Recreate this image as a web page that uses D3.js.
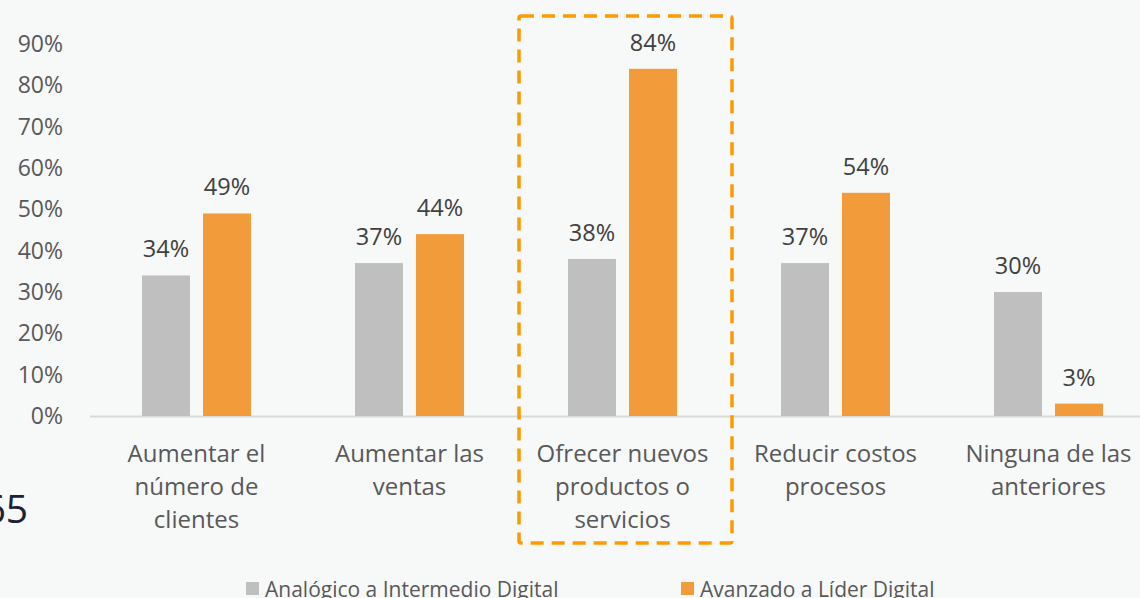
<!DOCTYPE html>
<html>
<head>
<meta charset="utf-8">
<script src="https://cdn.jsdelivr.net/npm/d3@7"></script>
<style>
  html, body { margin: 0; padding: 0; background: #f7f8f8; }
  svg { display: block; font-family: "Open Sans", sans-serif; }
</style>
</head>
<body>
<div id="chart"></div>
<script>
// datos
var categorias = [
  ["Aumentar el", "número de", "clientes"],
  ["Aumentar las", "ventas"],
  ["Ofrecer nuevos", "productos o", "servicios"],
  ["Reducir costos", "procesos"],
  ["Ninguna de las", "anteriores"]
];
var series = ["Analógico a Intermedio Digital", "Avanzado a Líder Digital"];
var analogico = [0.34, 0.37, 0.38, 0.37, 0.30];
var avanzado = [0.49, 0.44, 0.84, 0.54, 0.03];
var etiquetasY = [0, 0.1, 0.2, 0.3, 0.4, 0.5, 0.6, 0.7, 0.8, 0.9];
var colores = ["#bfbfbf", "#f29b3a"];

var width = 1140, height = 598;
var claves = categorias.map(function(c){ return c.join(" "); });

var svg = d3.select("#chart").append("svg")
  .attr("width", width)
  .attr("height", height);

var x0 = d3.scaleBand().domain(claves).range([90, 1155]);
var x1 = d3.scaleBand().domain(series).range([52, 161]).paddingInner(0.213);
var y = d3.scaleLinear().domain([0, 0.9]).range([416, 44]);

// eje y (solo texto)
var ejeY = d3.axisLeft(y).tickValues(etiquetasY).tickFormat(d3.format(".0%")).tickSize(0).tickPadding(0);
var gy = svg.append("g").attr("transform", "translate(63,0)").call(ejeY);
gy.select(".domain").remove();
gy.selectAll("text")
  .style("font-size", "23px")
  .style("font-family", "'Open Sans', sans-serif")
  .attr("fill", "#595959");

// linea base
svg.append("line")
  .attr("x1", 90).attr("x2", width)
  .attr("y1", y(0) + 0.5).attr("y2", y(0) + 0.5)
  .attr("stroke", "#d9d9d9").attr("stroke-width", 2);

var filas = claves.map(function(k, i){
  return { cat: k, valores: [
    { serie: series[0], v: analogico[i] },
    { serie: series[1], v: avanzado[i] }
  ]};
});

var grupos = svg.selectAll(".grupo").data(filas).enter().append("g")
  .attr("class", "grupo")
  .attr("transform", function(d){ return "translate(" + x0(d.cat) + ",0)"; });

grupos.selectAll("rect").data(function(d){ return d.valores; }).enter().append("rect")
  .attr("x", function(d){ return x1(d.serie); })
  .attr("y", function(d){ return y(d.v); })
  .attr("width", x1.bandwidth())
  .attr("height", function(d){ return y(0) - y(d.v); })
  .attr("fill", function(d, i){ return colores[i]; });

grupos.selectAll(".valor").data(function(d){ return d.valores; }).enter().append("text")
  .attr("class", "valor")
  .attr("x", function(d){ return x1(d.serie) + x1.bandwidth() / 2; })
  .attr("y", function(d){ return y(d.v) - 18; })
  .attr("text-anchor", "middle")
  .style("font-size", "23.5px")
  .attr("fill", "#404040")
  .text(function(d){ return Math.round(d.v * 100) + "%"; });

// etiquetas de categoria
categorias.forEach(function(lineas, i){
  var t = svg.append("text")
    .attr("text-anchor", "middle")
    .style("font-size", "24px")
    .attr("fill", "#595959");
  lineas.forEach(function(l, j){
    t.append("tspan")
      .attr("x", x0(claves[i]) + x0.bandwidth() / 2)
      .attr("y", 462 + j * 33)
      .text(l);
  });
});

// recuadro punteado
var destacado = claves[2];
svg.append("rect")
  .attr("x", x0(destacado) + 3)
  .attr("y", 16)
  .attr("width", x0.bandwidth())
  .attr("height", 527)
  .attr("rx", 2)
  .attr("fill", "none")
  .attr("stroke", "#ff9900")
  .attr("stroke-width", 3.5)
  .attr("stroke-dasharray", "13,8");

// fragmento de texto cortado a la izquierda
svg.append("text")
  .attr("x", 28).attr("y", 523)
  .attr("text-anchor", "end")
  .style("font-size", "39px")
  .attr("fill", "#1b2235")
  .text("65");

// leyenda
var leyX = [246, 681];
series.forEach(function(s, i){
  svg.append("rect")
    .attr("x", leyX[i]).attr("y", 582)
    .attr("width", 13).attr("height", 13)
    .attr("fill", colores[i]);
  svg.append("text")
    .attr("x", leyX[i] + 19).attr("y", 597)
    .style("font-size", "21px")
    .attr("fill", "#595959")
    .text(s);
});
</script>
</body>
</html>
